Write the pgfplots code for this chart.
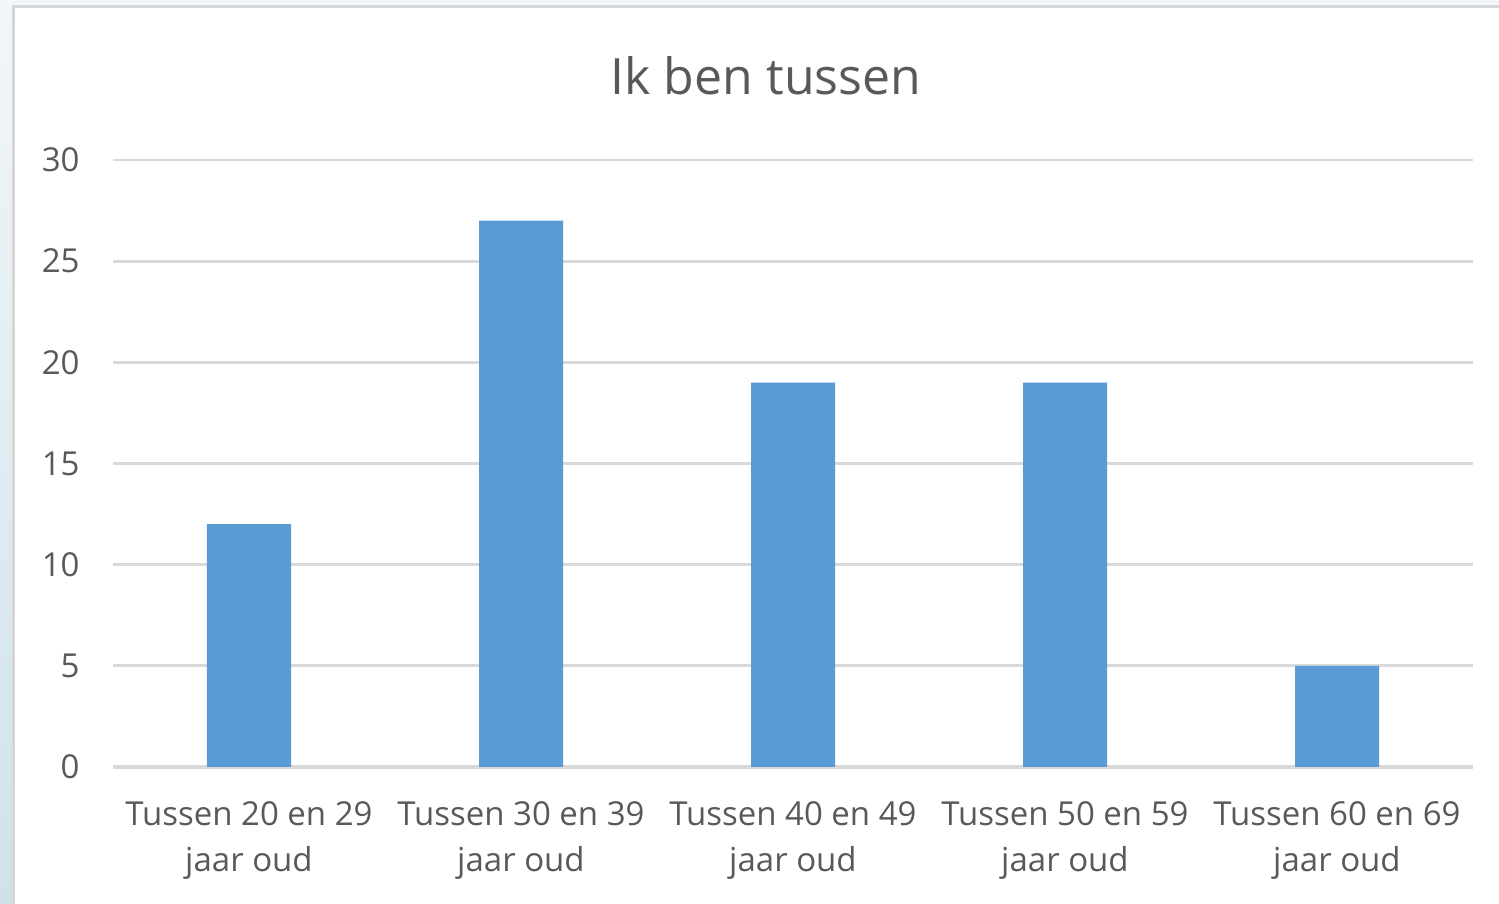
\documentclass[border=0pt]{standalone}
\usepackage{pgfplots}
\pgfplotsset{compat=1.18}
\usepackage{fontspec}
\setmainfont{Open Sans}
\definecolor{barblue}{HTML}{5B9BD5}
\definecolor{txt}{HTML}{595959}
\definecolor{gridc}{HTML}{D9D9D9}
\definecolor{frame}{HTML}{D6D6D6}
\definecolor{bgtop}{HTML}{F2F6F9}
\definecolor{bgbot}{HTML}{CFE2E9}
\begin{document}
\begin{tikzpicture}
  % page: 1 px = 0.5 pt
  \useasboundingbox (0,0) rectangle (749.5pt,452pt);
  \shade[top color=bgtop, bottom color=bgbot] (0,0) rectangle (749.5pt,452pt);
  \fill[bgtop] (0,446pt) rectangle (749.5pt,452pt);
  \filldraw[fill=white, draw=frame, line width=1.5pt] (6.5pt,-5pt) rectangle (760pt,448.5pt);
  \node[font=\fontsize{25}{29}\selectfont, text=txt] at (383pt,414pt) {Ik ben tussen};
  \begin{axis}[
      at={(56.5pt,68.5pt)}, anchor=south west,
      scale only axis,
      width=680pt, height=303.5pt,
      ybar, bar width=42pt,
      xmin=-0.5, xmax=4.5,
      ymin=0, ymax=30,
      ytick={0,5,...,30},
      xtick=data,
      xticklabels={{Tussen 20 en 29\\jaar oud},{Tussen 30 en 39\\jaar oud},{Tussen 40 en 49\\jaar oud},{Tussen 50 en 59\\jaar oud},{Tussen 60 en 69\\jaar oud}},
      axis line style={draw=none},
      major tick length=0pt,
      ymajorgrids, grid style={gridc, line width=1.4pt},
      /pgf/number format/assume math mode=true,
      yticklabel style={font=\fontsize{16.5}{20}\selectfont, text=txt, inner sep=0pt, xshift=-16.5pt},
      xticklabel style={font=\fontsize{16.5}{23}\selectfont, text=txt, align=center, inner sep=0pt, anchor=north, yshift=-17pt},
      extra y ticks={0}, extra y tick labels={},
      extra y tick style={grid style={gridc, line width=1.6pt}},
    ]
    \addplot[fill=barblue, draw=none] coordinates {(0,12) (1,27) (2,19) (3,19) (4,5)};
  \end{axis}
\end{tikzpicture}
\end{document}
